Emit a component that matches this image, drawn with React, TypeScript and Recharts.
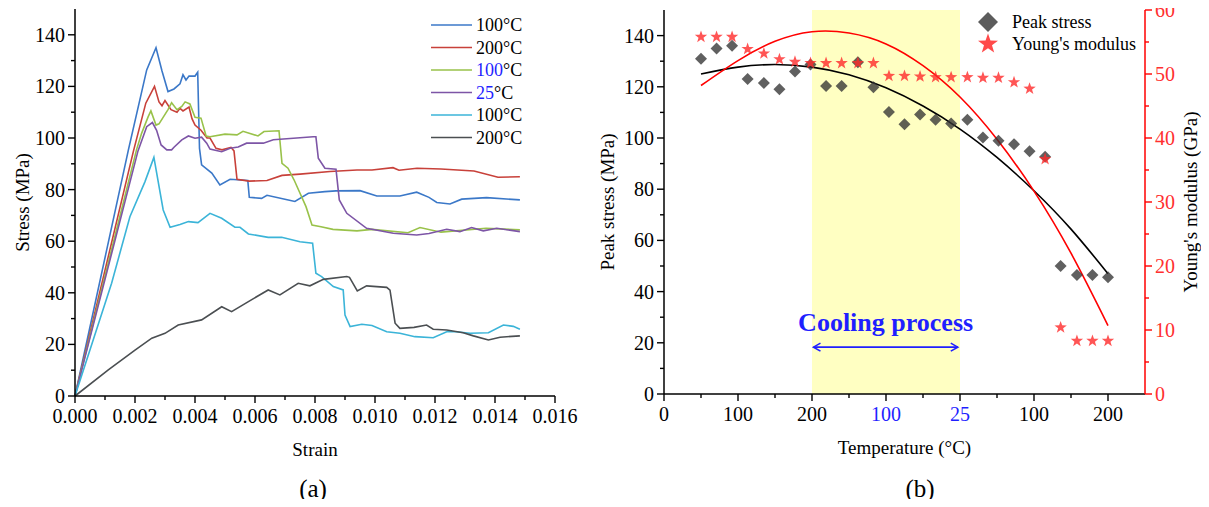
import React from 'react';
import {
  LineChart,
  ComposedChart,
  Line,
  Scatter,
  XAxis,
  YAxis,
  ReferenceArea,
  ReferenceLine,
} from 'recharts';

const FONT = '"Liberation Serif", "Times New Roman", serif';
const COOL_BLUE = '#1f1fff';

// ---------- (a) stress–strain curves, [strain, stress MPa] ----------
const heated100: [number, number][] = [
  [0, 0], [0.00178, 95.4], [0.00239, 126.4], [0.0027, 135], [0.0029, 126], [0.0031, 118],
  [0.0033, 119], [0.0035, 121], [0.0036, 124.5], [0.0037, 122.5], [0.0038, 124], [0.004, 124],
  [0.00409, 125.5], [0.00415, 96], [0.00422, 89.6], [0.00456, 86.4], [0.00483, 81.8],
  [0.00517, 84], [0.00576, 83.5], [0.00581, 77], [0.00622, 76.6], [0.0064, 77.8],
  [0.00711, 76], [0.00733, 75.4], [0.00778, 78.6], [0.00833, 79.2], [0.0087, 79.5],
  [0.0095, 79.6], [0.01006, 77.5], [0.01083, 77.5], [0.01139, 79], [0.0118, 77], [0.01206, 75],
  [0.0125, 74.4], [0.01289, 76.3], [0.01372, 76.9], [0.01483, 76],
];
const heated200: [number, number][] = [
  [0, 0], [0.00195, 95], [0.00236, 113.5], [0.00265, 120], [0.0028, 114], [0.0029, 112.5],
  [0.003, 114.5], [0.0032, 111], [0.0034, 110], [0.0035, 111.5], [0.0036, 110.5], [0.0038, 112],
  [0.0039, 107.5], [0.004, 105], [0.0042, 103], [0.0044, 100], [0.0045, 100], [0.0047, 96],
  [0.0049, 95.4], [0.0052, 96.4], [0.0053, 95], [0.0054, 84], [0.0058, 83.3], [0.0064, 83.5],
  [0.0069, 85.5], [0.0075, 86], [0.0085, 87], [0.0094, 87.6], [0.0099, 87.6], [0.0106, 88.5],
  [0.0108, 87.5], [0.0114, 88.3], [0.0122, 88], [0.0133, 87.2], [0.0141, 84.8], [0.01483, 85],
];
const cooled100: [number, number][] = [
  [0, 0], [0.00205, 95.4], [0.00222, 101.8], [0.00244, 108.3], [0.00253, 110.5], [0.0027, 105],
  [0.0028, 105.5], [0.0031, 111], [0.00322, 113.7], [0.0034, 111], [0.00356, 112.2],
  [0.00367, 114], [0.00383, 113.2], [0.004, 108], [0.0042, 107.7], [0.00437, 100.8],
  [0.0045, 100.5], [0.005, 101.5], [0.0054, 101.2], [0.0056, 102.6], [0.0061, 100.8],
  [0.0063, 102.5], [0.0068, 102.8], [0.0069, 90.2], [0.0071, 88.3], [0.0073, 83.8],
  [0.0077, 73.4], [0.0079, 66.3], [0.0082, 65.6], [0.0086, 64.6], [0.0094, 64], [0.0099, 64.6],
  [0.0111, 63.3], [0.0115, 65.3], [0.0122, 63.5], [0.0137, 65], [0.01483, 64.4],
];
const cooled25: [number, number][] = [
  [0, 0], [0.0021, 95], [0.00239, 104.4], [0.00258, 106], [0.00272, 103], [0.00287, 97.3],
  [0.00306, 95.4], [0.00322, 95.4], [0.0033, 96.4], [0.00356, 99.3], [0.00378, 100.8],
  [0.004, 99.9], [0.00422, 100.3], [0.00439, 98], [0.0045, 95.7], [0.00489, 94.7],
  [0.00517, 96], [0.00544, 96.5], [0.00572, 98], [0.00628, 98], [0.00661, 99.3],
  [0.00728, 99.9], [0.00794, 100.5], [0.00803, 100.5], [0.00811, 92.2], [0.00833, 88.3],
  [0.0087, 87.9], [0.00881, 76], [0.00906, 70.8], [0.00972, 65], [0.01061, 63.1],
  [0.01139, 62.4], [0.0118, 63], [0.01239, 64.6], [0.01283, 63.7], [0.01322, 65.3],
  [0.01361, 64], [0.01406, 65], [0.01483, 63.7],
];
const reheated100: [number, number][] = [
  [0, 0], [0.00122, 43.7], [0.00183, 69.5], [0.00233, 83], [0.00263, 92.5], [0.00294, 72.1],
  [0.00317, 65.4], [0.0035, 66.5], [0.00378, 67.6], [0.0041, 67.2], [0.0045, 70.8],
  [0.00489, 68.9], [0.00533, 65.4], [0.0055, 65.4], [0.00578, 62.8], [0.00644, 61.5],
  [0.00689, 61.5], [0.0075, 59.8], [0.00792, 59.2], [0.00803, 47.6], [0.00822, 46.3],
  [0.00861, 42.4], [0.00894, 41.1], [0.009, 31.4], [0.00917, 26.9], [0.00956, 27.8],
  [0.0099, 27.3], [0.01039, 24.9], [0.01083, 24.3], [0.01133, 23], [0.01194, 22.6],
  [0.01239, 24.9], [0.0127, 24.9], [0.01317, 24.3], [0.01378, 24.5], [0.01428, 27.5],
  [0.01461, 27], [0.01483, 25.9],
];
const reheated200: [number, number][] = [
  [0, 0], [0.00111, 10.1], [0.002, 17.8], [0.00256, 22.4], [0.003, 24.3], [0.00344, 27.5],
  [0.00422, 29.5], [0.00489, 34.6], [0.00522, 32.7], [0.00578, 36.6], [0.00644, 41.1],
  [0.00683, 39.2], [0.00744, 43.7], [0.00783, 42.7], [0.00828, 45.2], [0.00906, 46.3],
  [0.00915, 46], [0.00941, 40.7], [0.00972, 42.7], [0.01039, 42.1], [0.0105, 41],
  [0.01067, 28.2], [0.01083, 26.2], [0.0113, 26.6], [0.01172, 27.5], [0.01194, 25.9],
  [0.01239, 25.6], [0.01294, 24.5], [0.01328, 23.3], [0.01378, 21.7], [0.01417, 22.8],
  [0.01483, 23.3],
];

const strainTicks = [
  0, 0.001, 0.002, 0.003, 0.004, 0.005, 0.006, 0.007, 0.008,
  0.009, 0.01, 0.011, 0.012, 0.013, 0.014, 0.015, 0.016,
];
const stressTicks = [0, 10, 20, 30, 40, 50, 60, 70, 80, 90, 100, 110, 120, 130, 140];

// legend text: temperature number, whether it is a cooling-stage label
const curves = [
  { temp: '100', cooling: false, color: '#3b78c8', data: heated100 },
  { temp: '200', cooling: false, color: '#c8413a', data: heated200 },
  { temp: '100', cooling: true, color: '#99c24a', data: cooled100 },
  { temp: '25', cooling: true, color: '#7d55a6', data: cooled25 },
  { temp: '100', cooling: false, color: '#3bb4d8', data: reheated100 },
  { temp: '200', cooling: false, color: '#4b4f52', data: reheated200 },
];

// ---------- (b) peak stress & Young's modulus vs temperature stage ----------
const tempPos = [
  0.5, 0.71, 0.92, 1.13, 1.35, 1.56, 1.77, 1.98, 2.19, 2.4, 2.62, 2.83, 3.04, 3.25,
  3.46, 3.67, 3.88, 4.1, 4.31, 4.52, 4.73, 4.94, 5.15, 5.36, 5.58, 5.79, 6.0,
];
const peakStress = [
  131, 135, 136, 123, 121.5, 119, 126, 128.7, 120.3, 120.3, 129.6, 119.8, 110.2, 105.4,
  109.2, 107.1, 105.7, 107.1, 100.2, 98.9, 97.6, 94.8, 92.7, 50, 46.5, 46.5, 45.6,
];
const youngsModulus = [
  55.8, 55.8, 55.8, 53.9, 53.2, 52.3, 51.9, 51.7, 51.7, 51.7, 51.7, 51.7, 49.7, 49.7,
  49.6, 49.5, 49.5, 49.5, 49.4, 49.4, 48.7, 47.7, 36.7, 10.4, 8.3, 8.3, 8.3,
];
const fitPos = [0.5, 1, 1.5, 2, 2.5, 3, 3.5, 4, 4.5, 5, 5.5, 6];
const peakFit = [125, 127.7, 128.7, 127.7, 124.7, 119.6, 112.5, 103.5, 92.4, 79.4, 64.4, 47];
const modulusFit = [48.2, 52.1, 55.1, 56.6, 56.4, 54.7, 51.3, 46.4, 39.8, 31.7, 22, 10.7];

const tempTicks = [0, 0.5, 1, 1.5, 2, 2.5, 3, 3.5, 4, 4.5, 5, 5.5, 6];
const tempTickLabels = ['0', '100', '200', '100', '25', '100', '200'];
const tempTickCooling = [false, false, false, true, true, false, false];
const peakTicks = [0, 10, 20, 30, 40, 50, 60, 70, 80, 90, 100, 110, 120, 130, 140];
const modulusTicks = [0, 5, 10, 15, 20, 25, 30, 35, 40, 45, 50, 55, 60];

const pts = (xs: number[], ys: number[]) => xs.map((x, i) => ({ x, y: ys[i] }));
const pairPts = (arr: [number, number][]) => arr.map(([x, y]) => ({ x, y }));

type TickOpts = {
  side: 'left' | 'right' | 'bottom';
  isMajor: (v: number) => boolean;
  label: (v: number) => string;
  color?: (v: number) => string;
  lineColor?: string;
};

const makeTick = (o: TickOpts) => (props: any) => {
  const { x, y, payload } = props;
  const v = payload.value as number;
  const major = o.isMajor(v);
  const len = major ? 7 : 4;
  const lc = o.lineColor ?? '#000';
  const tc = o.color ? o.color(v) : '#000';
  if (o.side === 'bottom') {
    return (
      <g>
        <line x1={x} y1={y} x2={x} y2={y + len} stroke={lc} strokeWidth={1.4} />
        {major && (
          <text x={x} y={y + 13} dy="0.71em" textAnchor="middle" fontSize={20} fontFamily={FONT} fill={tc}>
            {o.label(v)}
          </text>
        )}
      </g>
    );
  }
  if (o.side === 'left') {
    return (
      <g>
        <line x1={x} y1={y} x2={x - len} y2={y} stroke={lc} strokeWidth={1.4} />
        {major && (
          <text x={x - 10} y={y} dy="0.35em" textAnchor="end" fontSize={20} fontFamily={FONT} fill={tc}>
            {o.label(v)}
          </text>
        )}
      </g>
    );
  }
  return (
    <g>
      <line x1={x} y1={y} x2={x + len} y2={y} stroke={lc} strokeWidth={1.4} />
      {major && (
        <text x={x + 10} y={y} dy="0.35em" textAnchor="start" fontSize={20} fontFamily={FONT} fill={tc}>
          {o.label(v)}
        </text>
      )}
    </g>
  );
};

const diamondPath = (cx: number, cy: number, h: number) =>
  `M${cx},${cy - h}L${cx + h},${cy}L${cx},${cy + h}L${cx - h},${cy}Z`;

const starPath = (cx: number, cy: number, R: number, r: number) => {
  let d = '';
  for (let i = 0; i < 10; i++) {
    const rad = i % 2 === 0 ? R : r;
    const a = -Math.PI / 2 + (i * Math.PI) / 5;
    d += `${i === 0 ? 'M' : 'L'}${cx + rad * Math.cos(a)},${cy + rad * Math.sin(a)}`;
  }
  return d + 'Z';
};

const DiamondShape = (p: any) => (
  <path d={diamondPath(p.cx, p.cy, 6)} fill="#333" fillOpacity={0.78} />
);
const StarShape = (p: any) => (
  <path d={starPath(p.cx, p.cy, 6.5, 2.6)} fill="#ff2a2a" fillOpacity={0.8} />
);

const CoolingArrow = (p: any) => {
  const { x1, y1, x2 } = p;
  const h = 7;
  return (
    <g>
      <text
        x={(x1 + x2) / 2}
        y={y1 - 16}
        textAnchor="middle"
        fontSize={26}
        fontWeight="bold"
        fontFamily={FONT}
        fill={COOL_BLUE}
      >
        Cooling process
      </text>
      <line x1={x1} y1={y1} x2={x2} y2={y1} stroke={COOL_BLUE} strokeWidth={1.6} />
      <polyline points={`${x1 + h},${y1 - 4} ${x1},${y1} ${x1 + h},${y1 + 4}`} fill="none" stroke={COOL_BLUE} strokeWidth={1.6} />
      <polyline points={`${x2 - h},${y1 - 4} ${x2},${y1} ${x2 - h},${y1 + 4}`} fill="none" stroke={COOL_BLUE} strokeWidth={1.6} />
    </g>
  );
};

function StressStrainChart() {
  return (
    <div style={{ position: 'absolute', left: 0, top: 0, width: 600, height: 470 }}>
      <LineChart width={600} height={470} margin={{ top: 9, right: 45, bottom: 44, left: 0 }}>
        <XAxis
          dataKey="x"
          type="number"
          domain={[0, 0.016]}
          ticks={strainTicks}
          interval={0}
          height={30}
          tickSize={0}
          tickMargin={0}
          tickLine={false}
          axisLine={{ stroke: '#000', strokeWidth: 1.5 }}
          tick={makeTick({
            side: 'bottom',
            isMajor: (v) => Math.round(v * 1000) % 2 === 0,
            label: (v) => v.toFixed(3),
          })}
          label={{ value: 'Strain', position: 'bottom', offset: 17, fontSize: 19, fontFamily: FONT, fill: '#000' }}
        />
        <XAxis xAxisId="top" orientation="top" type="number" domain={[0, 0.016]} height={0} tick={false} tickLine={false} axisLine={{ stroke: '#000', strokeWidth: 1.5 }} />
        <YAxis
          type="number"
          domain={[0, 150]}
          ticks={stressTicks}
          interval={0}
          width={75}
          tickSize={0}
          tickMargin={0}
          tickLine={false}
          axisLine={{ stroke: '#000', strokeWidth: 1.5 }}
          tick={makeTick({ side: 'left', isMajor: (v) => v % 20 === 0, label: (v) => String(v) })}
          label={{
            value: 'Stress (MPa)',
            angle: -90,
            position: 'insideLeft',
            offset: 22,
            style: { textAnchor: 'middle' },
            fontSize: 19,
            fontFamily: FONT,
            fill: '#000',
          }}
        />
        <YAxis yAxisId="box" orientation="right" type="number" domain={[0, 150]} width={0} tick={false} tickLine={false} axisLine={{ stroke: '#000', strokeWidth: 1.5 }} />
        {curves.map((c, i) => (
          <Line
            key={i}
            data={pairPts(c.data)}
            dataKey="y"
            type="linear"
            stroke={c.color}
            strokeWidth={1.6}
            dot={false}
            isAnimationActive={false}
          />
        ))}
      </LineChart>
      <svg style={{ position: 'absolute', left: 425, top: 12 }} width={130} height={140}>
        {curves.map((c, i) => {
          const cy = 13 + i * 22.5;
          return (
            <g key={i}>
              <line x1={6} y1={cy} x2={47} y2={cy} stroke={c.color} strokeWidth={1.6} />
              <text x={51} y={cy + 6} fontSize={18} fontFamily={FONT} fill="#000">
                <tspan fill={c.cooling ? COOL_BLUE : '#000'}>{c.temp}</tspan>
                <tspan>°C</tspan>
              </text>
            </g>
          );
        })}
      </svg>
    </div>
  );
}

function PeakModulusChart() {
  return (
    <div style={{ position: 'absolute', left: 590, top: 0, width: 620, height: 470 }}>
      <ComposedChart width={620} height={470} margin={{ top: 10, right: 0, bottom: 46, left: 0 }}>
        <ReferenceArea
          yAxisId="l"
          x1={2}
          x2={4}
          y1={0}
          y2={150}
          fill="#ffff99"
          fillOpacity={0.6}
          stroke="none"
        />
        <XAxis
          dataKey="x"
          type="number"
          domain={[0, 6.5]}
          ticks={tempTicks}
          interval={0}
          height={30}
          tickSize={0}
          tickMargin={0}
          tickLine={false}
          axisLine={{ stroke: '#000', strokeWidth: 1.5 }}
          tick={makeTick({
            side: 'bottom',
            isMajor: (v) => Number.isInteger(v),
            label: (v) => tempTickLabels[v],
            color: (v) => (tempTickCooling[v] ? COOL_BLUE : '#000'),
          })}
          label={{ value: 'Temperature (°C)', position: 'bottom', offset: 17, fontSize: 19, fontFamily: FONT, fill: '#000' }}
        />
        <XAxis xAxisId="top" orientation="top" type="number" domain={[0, 6.5]} height={0} tick={false} tickLine={false} axisLine={{ stroke: '#000', strokeWidth: 1.5 }} />
        <YAxis
          yAxisId="l"
          type="number"
          domain={[0, 150]}
          ticks={peakTicks}
          interval={0}
          width={74}
          tickSize={0}
          tickMargin={0}
          tickLine={false}
          axisLine={{ stroke: '#000', strokeWidth: 1.5 }}
          tick={makeTick({ side: 'left', isMajor: (v) => v % 20 === 0, label: (v) => String(v) })}
          label={{
            value: 'Peak stress (MPa)',
            angle: -90,
            position: 'insideLeft',
            offset: 17,
            style: { textAnchor: 'middle' },
            fontSize: 19,
            fontFamily: FONT,
            fill: '#000',
          }}
        />
        <YAxis
          yAxisId="r"
          orientation="right"
          type="number"
          domain={[0, 60]}
          ticks={modulusTicks}
          interval={0}
          width={65}
          tickSize={0}
          tickMargin={0}
          tickLine={false}
          axisLine={{ stroke: '#ff0000', strokeWidth: 1.5 }}
          tick={makeTick({
            side: 'right',
            isMajor: (v) => v % 10 === 0,
            label: (v) => String(v),
            color: () => '#ff3030',
            lineColor: '#ff0000',
          })}
          label={{
            value: "Young's modulus (GPa)",
            angle: -90,
            position: 'insideRight',
            offset: 20,
            style: { textAnchor: 'middle' },
            fontSize: 19,
            fontFamily: FONT,
            fill: '#000',
          }}
        />
        <Line
          yAxisId="l"
          data={pts(fitPos, peakFit)}
          dataKey="y"
          type="natural"
          stroke="#000"
          strokeWidth={1.6}
          dot={false}
          isAnimationActive={false}
        />
        <Line
          yAxisId="r"
          data={pts(fitPos, modulusFit)}
          dataKey="y"
          type="natural"
          stroke="#ff0000"
          strokeWidth={1.6}
          dot={false}
          isAnimationActive={false}
        />
        <Scatter yAxisId="l" data={pts(tempPos, peakStress)} dataKey="y" shape={DiamondShape} isAnimationActive={false} />
        <Scatter yAxisId="r" data={pts(tempPos, youngsModulus)} dataKey="y" shape={StarShape} isAnimationActive={false} />
        <ReferenceLine
          yAxisId="l"
          segment={[{ x: 2.02, y: 18.3 }, { x: 3.97, y: 18.3 }]}
          shape={CoolingArrow}
        />
      </ComposedChart>
      <svg style={{ position: 'absolute', left: 385, top: 6 }} width={170} height={52}>
        <path d={diamondPath(13, 16, 10)} fill="#333" fillOpacity={0.8} />
        <text x={37} y={22} fontSize={18} fontFamily={FONT} fill="#000">Peak stress</text>
        <path d={starPath(13, 38, 10.5, 4.2)} fill="#ff2a2a" fillOpacity={0.85} />
        <text x={37} y={44} fontSize={18} fontFamily={FONT} fill="#000">Young's modulus</text>
      </svg>
    </div>
  );
}

export default function App() {
  return (
    <div style={{ position: 'relative', width: 1209, height: 507, margin: -8, background: '#fff', fontFamily: FONT }}>
      <StressStrainChart />
      <PeakModulusChart />
      <div style={{ position: 'absolute', left: 293, top: 475, width: 40, textAlign: 'center', fontSize: 25 }}>(a)</div>
      <div style={{ position: 'absolute', left: 900, top: 475, width: 40, textAlign: 'center', fontSize: 25 }}>(b)</div>
    </div>
  );
}
